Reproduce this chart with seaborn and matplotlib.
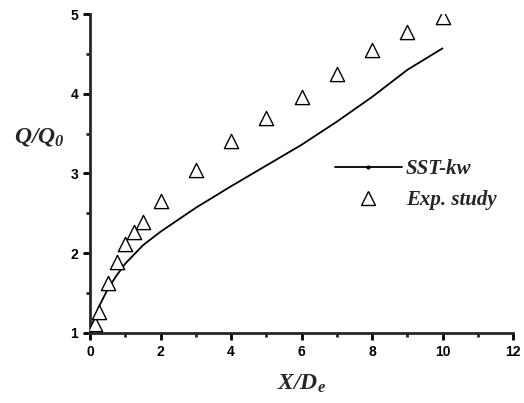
import numpy as np
import pandas as pd
import seaborn as sns
import matplotlib.pyplot as plt
from matplotlib.lines import Line2D
from matplotlib.ticker import MultipleLocator

# SST-kw simulation curve
sim_x = [0.05, 0.1, 0.25, 0.5, 0.75, 1.0, 1.5, 2.0, 3.0, 4.0, 5.0, 6.0, 7.0, 8.0, 9.0, 10.0]
sim_y = [1.0, 1.17, 1.33, 1.55, 1.72, 1.87, 2.10, 2.27, 2.57, 2.84, 3.10, 3.36, 3.65, 3.96, 4.30, 4.57]

# experimental points
exp_x = [0.14, 0.25, 0.5, 0.75, 1.0, 1.25, 1.5, 2.0, 3.0, 4.0, 5.0, 6.0, 7.0, 8.0, 9.0, 10.0]
exp_y = [1.11, 1.26, 1.62, 1.89, 2.11, 2.27, 2.39, 2.65, 3.04, 3.41, 3.70, 3.96, 4.25, 4.55, 4.78, 4.96]

sns.set_style("ticks")
plt.rcParams['font.family'] = ['Liberation Sans', 'DejaVu Sans']
plt.rcParams['mathtext.fontset'] = 'custom'
plt.rcParams['mathtext.rm'] = 'Liberation Serif'
plt.rcParams['mathtext.it'] = 'Liberation Serif:italic'
plt.rcParams['mathtext.bf'] = 'Liberation Serif:bold'
plt.rcParams['mathtext.bfit'] = 'Liberation Serif:bold:italic'

df_sim = pd.DataFrame({'x': sim_x, 'y': sim_y})
df_exp = pd.DataFrame({'x': exp_x, 'y': exp_y})

fig, ax = plt.subplots(figsize=(5.24, 4.03), dpi=100)
fig.subplots_adjust(left=0.172, right=0.979, bottom=0.174, top=0.965)

sns.lineplot(data=df_sim, x='x', y='y', color='black', linewidth=1.3, ax=ax)
sns.scatterplot(data=df_exp, x='x', y='y', marker='^', s=105, facecolor='white',
                edgecolor='black', linewidth=1.0, ax=ax, zorder=3)

ax.set_xlim(0, 12)
ax.set_ylim(1, 5)
ax.xaxis.set_major_locator(MultipleLocator(2))
ax.xaxis.set_minor_locator(MultipleLocator(1))
ax.yaxis.set_major_locator(MultipleLocator(1))
ax.yaxis.set_minor_locator(MultipleLocator(0.5))

sns.despine(ax=ax)
for s in ['left', 'bottom']:
    ax.spines[s].set_linewidth(2)
ax.tick_params(which='major', length=5, width=2, labelsize=10, direction='out', colors='black')
ax.tick_params(which='minor', length=3, width=2, direction='out')
for lab in ax.get_xticklabels() + ax.get_yticklabels():
    lab.set_fontweight('bold')

ax.set_xlabel(r'$\mathbfit{X/D_e}$', fontsize=17, labelpad=10)
ax.set_ylabel(r'$\mathbfit{Q/Q_0}$', fontsize=17, rotation=0, va='center', ha='center')
ax.yaxis.set_label_coords(-0.12, 0.614)

handles = [
    Line2D([], [], color='black', linewidth=1.3, marker='.', markersize=4),
    Line2D([], [], color='black', linestyle='none', marker='^', markersize=10,
           markerfacecolor='white', markeredgewidth=1.0),
]
ax.legend(handles, ['SST-kw', 'Exp. study'], loc='center left',
          bbox_to_anchor=(0.535, 0.465), frameon=False, handlelength=3.2,
          prop={'family': 'Liberation Serif', 'weight': 'bold', 'style': 'italic', 'size': 15},
          labelspacing=0.5, handletextpad=0.2)

fig.savefig('out.png', dpi=100)
